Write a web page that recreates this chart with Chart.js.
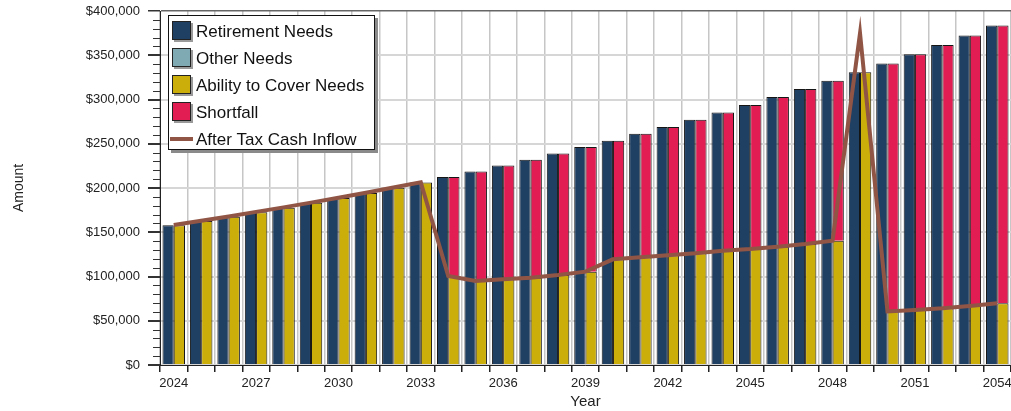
<!DOCTYPE html>
<html>
<head>
<meta charset="utf-8">
<script src="https://cdn.jsdelivr.net/npm/chart.js@4/dist/chart.umd.min.js"></script>
<style>
  html, body { margin: 0; padding: 0; background: #ffffff; }
  #wrap { width: 1011px; height: 411px; position: relative; }
</style>
</head>
<body>
<div id="wrap"><canvas id="chart" width="1011" height="411"></canvas></div>
<script>
// Planning horizon
const years = ['2024','2025','2026','2027','2028','2029','2030','2031','2032','2033',
  '2034','2035','2036','2037','2038','2039','2040','2041','2042','2043',
  '2044','2045','2046','2047','2048','2049','2050','2051','2052','2053','2054'];

// Annual retirement spending need
const retirementNeeds = [158000,162700,167600,172700,177800,183200,188700,194300,200200,206200,
  212300,218700,225300,232000,239000,246200,253500,261200,269000,277100,
  285400,293900,302700,311800,321200,330800,340700,351000,361500,372300,383500];

// Additional needs (none in this plan)
const otherNeeds = [0,0,0,0,0,0,0,0,0,0,0,0,0,0,0,0,0,0,0,0,0,0,0,0,0,0,0,0,0,0,0];

// Portion of the needs covered by income
const abilityToCover = [158000,162700,167600,172700,177800,183200,188700,194300,200200,206200,
  100500,94900,96800,98700,101700,105500,119400,121700,124000,126200,
  129200,131000,133700,136700,140500,330800,60500,62100,64000,66700,69700];

// Uncovered portion of the needs
const shortfall = [0,0,0,0,0,0,0,0,0,0,
  111800,123800,128500,133300,137300,140700,134100,139500,145000,150900,
  156200,162900,169000,175100,180700,0,280200,288900,297500,305600,313800];

// After-tax cash inflow per year
const afterTaxInflow = [158200,163000,167900,173000,178100,183500,189000,194600,200500,206500,
  100500,94900,96800,98700,101700,105500,119400,121700,124000,126200,
  129200,131000,133700,136700,140500,375000,60500,62100,64000,66700,69700];

// Y axis: major labels every 50k, minor ticks every 10k
const yMax = 400000;
const yStep = 10000;
const yMajor = 50000;

const FONT = "'Liberation Sans', Arial, sans-serif";
const COLORS = {
  needs: '#1F3F63',
  other: '#80AAB3',
  cover: '#CBAE0A',
  shortfall: '#E21D54',
  inflow: '#915546'
};

const edge = '#151515';
const noZeroBorder = ctx => (ctx.raw ? 1 : 0);

// Legend drawn inside the plot area, top-left
const insideLegend = {
  id: 'insideLegend',
  afterDatasetsDraw(chart) {
    const ctx = chart.ctx;
    const x0 = 168, y0 = 15, w = 207, h = 135;
    ctx.save();
    // drop shadow
    ctx.fillStyle = '#8a8a8a';
    ctx.fillRect(x0 + 3, y0 + 3, w, h);
    ctx.fillStyle = '#ffffff';
    ctx.fillRect(x0, y0, w, h);
    ctx.strokeStyle = '#111111';
    ctx.lineWidth = 1;
    ctx.strokeRect(x0 + 0.5, y0 + 0.5, w - 1, h - 1);

    const rowY0 = 31, rowGap = 27;
    ctx.font = '17px ' + FONT;
    ctx.textBaseline = 'middle';
    ctx.textAlign = 'left';
    chart.data.datasets.forEach((ds, i) => {
      const cy = rowY0 + i * rowGap;
      if (ds.type === 'line') {
        ctx.fillStyle = ds.borderColor;
        ctx.fillRect(170, cy - 2, 23, 4);
      } else {
        ctx.fillStyle = '#9a9a9a';
        ctx.fillRect(174, cy - 8, 19, 19);
        ctx.fillStyle = ds.backgroundColor;
        ctx.fillRect(172, cy - 10, 19, 19);
        ctx.strokeStyle = '#222222';
        ctx.strokeRect(172.5, cy - 9.5, 18, 18);
      }
      ctx.fillStyle = '#111111';
      ctx.fillText(ds.label, 196, cy + 1);
    });
    ctx.restore();
  }
};

// Short minor ticks on the value axis
const minorTicks = {
  id: 'minorTicks',
  afterDraw(chart) {
    const y = chart.scales.y;
    const ctx = chart.ctx;
    ctx.save();
    ctx.strokeStyle = '#333333';
    ctx.lineWidth = 1;
    y.ticks.forEach(t => {
      if (t.value % yMajor !== 0) {
        const py = Math.round(y.getPixelForValue(t.value)) + 0.5;
        ctx.beginPath();
        ctx.moveTo(y.right - 7, py);
        ctx.lineTo(y.right, py);
        ctx.stroke();
      }
    });
    ctx.restore();
  }
};

new Chart(document.getElementById('chart'), {
  data: {
    labels: years,
    datasets: [
      { type: 'bar', label: 'Retirement Needs', data: retirementNeeds, stack: 'needs',
        backgroundColor: COLORS.needs, borderColor: edge, borderWidth: noZeroBorder },
      { type: 'bar', label: 'Other Needs', data: otherNeeds, stack: 'needs',
        backgroundColor: COLORS.other, borderColor: edge, borderWidth: noZeroBorder },
      { type: 'bar', label: 'Ability to Cover Needs', data: abilityToCover, stack: 'cover',
        backgroundColor: COLORS.cover, borderColor: edge, borderWidth: noZeroBorder },
      { type: 'bar', label: 'Shortfall', data: shortfall, stack: 'cover',
        backgroundColor: COLORS.shortfall, borderColor: edge, borderWidth: noZeroBorder },
      { type: 'line', label: 'After Tax Cash Inflow', data: afterTaxInflow, order: -1,
        borderColor: COLORS.inflow, borderWidth: 4, pointRadius: 0, tension: 0,
        borderJoinStyle: 'miter', fill: false }
    ]
  },
  options: {
    responsive: false,
    devicePixelRatio: 1,
    animation: false,
    events: [],
    layout: { padding: { top: 11, right: 0, bottom: 0, left: 0 } },
    datasets: { bar: { categoryPercentage: 0.82, barPercentage: 1.0 } },
    plugins: {
      legend: { display: false },
      tooltip: { enabled: false }
    },
    scales: {
      x: {
        stacked: true,
        offset: true,
        grid: { offset: true, color: '#c6c6c6', lineWidth: 1.5, tickLength: 7, tickColor: '#222222' },
        border: { display: true, color: '#222222', width: 1 },
        ticks: {
          autoSkip: false, maxRotation: 0, minRotation: 0, padding: 4,
          color: '#222222', font: { family: FONT, size: 13 },
          callback: (v, i) => (i % 3 === 0 ? years[i] : '')
        },
        title: { display: true, text: 'Year', color: '#222222',
          font: { family: FONT, size: 15 }, padding: { top: 0, bottom: 0 } },
        afterFit(s) { s.height = 46; s.paddingLeft = 0; s.paddingRight = 0; }
      },
      y: {
        stacked: true,
        min: 0, max: yMax,
        grid: {
          color: c => (c.tick.value === yMax ? '#666666' : (c.tick.value % yMajor === 0 ? '#d6d6d6' : 'rgba(0,0,0,0)')),
          lineWidth: c => (c.tick.value === yMax ? 1.5 : 2),
          tickLength: 12,
          tickColor: c => (c.tick.value % yMajor === 0 ? '#333333' : 'rgba(0,0,0,0)')
        },
        border: { display: true, color: '#222222', width: 1 },
        ticks: {
          stepSize: yStep, autoSkip: false, padding: 8,
          color: '#222222', font: { family: FONT, size: 13 },
          callback: v => (v % yMajor === 0 ? '$' + v.toLocaleString('en-US') : '')
        },
        title: { display: true, text: 'Amount', color: '#222222',
          font: { family: FONT, size: 14 }, padding: { top: 11, bottom: 0 } },
        afterFit(s) { s.width = 160; s.paddingTop = 0; s.paddingBottom = 0; }
      }
    }
  },
  plugins: [insideLegend, minorTicks]
});
</script>
</body>
</html>
